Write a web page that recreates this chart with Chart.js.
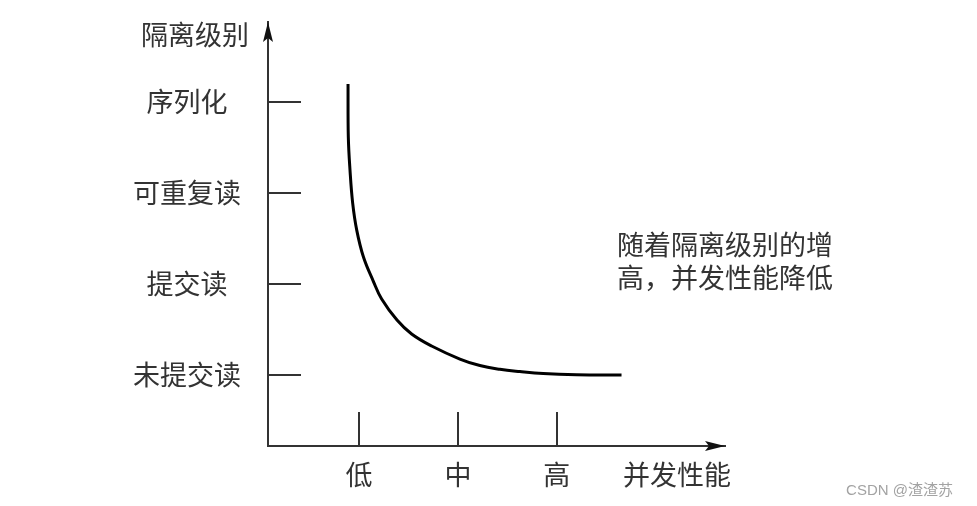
<!DOCTYPE html>
<html>
<head>
<meta charset="utf-8">
<script src="https://cdn.jsdelivr.net/npm/chart.js@4/dist/chart.umd.min.js"></script>
<style>
  html, body { margin: 0; padding: 0; background: #fff; }
  #chart { display: block; }
</style>
</head>
<body>
<canvas id="chart" width="977" height="506"></canvas>
<script>
/*****************************  Data  *****************************/
var levelValues = [1, 2, 3, 4];
var levelLabels = ['未提交读', '提交读', '可重复读', '序列化'];
var perfValues = [1, 2, 3];
var perfLabels = ['低', '中', '高'];
var yTitle = '隔离级别';
var xTitle = '并发性能';
var noteLines = ['随着隔离级别的增', '高，并发性能降低'];
var watermark = 'CSDN @渣渣苏';

// curve (x = concurrency, y = isolation level)
var curveX = [0.889, 0.892, 0.909, 0.936, 0.977, 1.045, 1.144, 1.229, 1.384, 1.532,
              1.734, 2.020, 2.222, 2.424, 2.626, 2.862, 3.199, 3.654];
var curveY = [4.198, 3.615, 3.253, 2.890, 2.593, 2.297, 2.033, 1.835, 1.604, 1.451,
              1.319, 1.176, 1.104, 1.063, 1.038, 1.016, 1.003, 1.000];

var ink = '#333333';
var cjk = '"Noto Sans CJK SC", "Noto Sans", sans-serif';

/*************************  Axis decoration  ***********************/
var axisDecor = {
    id: 'axisDecor',
    afterDraw: function(chart) {
        var ctx = chart.ctx;
        var area = chart.chartArea;
        var xs = chart.scales.x, ys = chart.scales.y;
        ctx.save();
        ctx.strokeStyle = ink;
        ctx.lineWidth = 2;
        // inward tick marks
        levelValues.forEach(function(v) {
            var py = Math.round(ys.getPixelForValue(v));
            ctx.beginPath();
            ctx.moveTo(area.left, py);
            ctx.lineTo(area.left + 33, py);
            ctx.stroke();
        });
        perfValues.forEach(function(v) {
            var px = Math.round(xs.getPixelForValue(v));
            ctx.beginPath();
            ctx.moveTo(px, area.bottom);
            ctx.lineTo(px, area.bottom - 34);
            ctx.stroke();
        });
        // arrow heads
        ctx.fillStyle = '#111';
        ctx.beginPath();
        ctx.moveTo(area.left, area.top);
        ctx.lineTo(area.left - 5, area.top + 20);
        ctx.lineTo(area.left, area.top + 16);
        ctx.lineTo(area.left + 5, area.top + 20);
        ctx.closePath();
        ctx.fill();
        ctx.beginPath();
        ctx.moveTo(area.right, area.bottom);
        ctx.lineTo(area.right - 20, area.bottom - 5);
        ctx.lineTo(area.right - 16, area.bottom);
        ctx.lineTo(area.right - 20, area.bottom + 5);
        ctx.closePath();
        ctx.fill();
        // titles and note
        ctx.fillStyle = ink;
        ctx.font = '27px ' + cjk;
        ctx.textBaseline = 'middle';
        ctx.textAlign = 'center';
        ctx.fillText(yTitle, area.left - 73, area.top + 13);
        ctx.fillText(xTitle, area.right - 48, area.bottom + 29);
        ctx.textAlign = 'left';
        ctx.fillText(noteLines[0], 617, 245);
        ctx.fillText(noteLines[1], 617, 278);
        ctx.fillStyle = '#a3a3a3';
        ctx.font = '15px "Liberation Sans", ' + cjk;
        ctx.textAlign = 'right';
        ctx.fillText(watermark, 953, 491);
        ctx.restore();
    }
};

function noEdgePadding(s) {
    s.paddingTop = 0;
    s.paddingBottom = 0;
    s.paddingLeft = 0;
    s.paddingRight = 0;
}

/****************************  Chart  *****************************/
var points = curveX.map(function(x, i) { return { x: x, y: curveY[i] }; });

new Chart(document.getElementById('chart'), {
    type: 'line',
    data: {
        datasets: [{
            data: points,
            borderColor: '#000',
            borderWidth: 3,
            pointRadius: 0,
            fill: false,
            tension: 0.4
        }]
    },
    options: {
        responsive: false,
        animation: false,
        devicePixelRatio: 1,
        layout: { padding: { left: 0, top: 22, right: 252, bottom: 0 } },
        plugins: { legend: { display: false }, tooltip: { enabled: false } },
        scales: {
            x: {
                type: 'linear',
                min: 0.08,
                max: 4.7,
                afterBuildTicks: function(s) { s.ticks = perfValues.map(function(v) { return { value: v }; }); },
                afterFit: function(s) { s.height = 60; noEdgePadding(s); },
                grid: { display: false, drawTicks: false },
                border: { display: true, color: ink, width: 2 },
                ticks: {
                    autoSkip: false,
                    maxRotation: 0,
                    padding: 13,
                    color: ink,
                    font: { size: 27, family: cjk },
                    callback: function(v) { return perfLabels[perfValues.indexOf(v)]; }
                }
            },
            y: {
                type: 'linear',
                min: 0.22,
                max: 4.88,
                afterBuildTicks: function(s) { s.ticks = levelValues.map(function(v) { return { value: v }; }); },
                afterFit: function(s) { s.width = 268; noEdgePadding(s); },
                grid: { display: false, drawTicks: false },
                border: { display: true, color: ink, width: 2 },
                ticks: {
                    autoSkip: false,
                    padding: 27,
                    crossAlign: 'center',
                    color: ink,
                    font: { size: 27, family: cjk },
                    callback: function(v) { return levelLabels[levelValues.indexOf(v)]; }
                }
            }
        }
    },
    plugins: [axisDecor]
});
</script>
</body>
</html>
